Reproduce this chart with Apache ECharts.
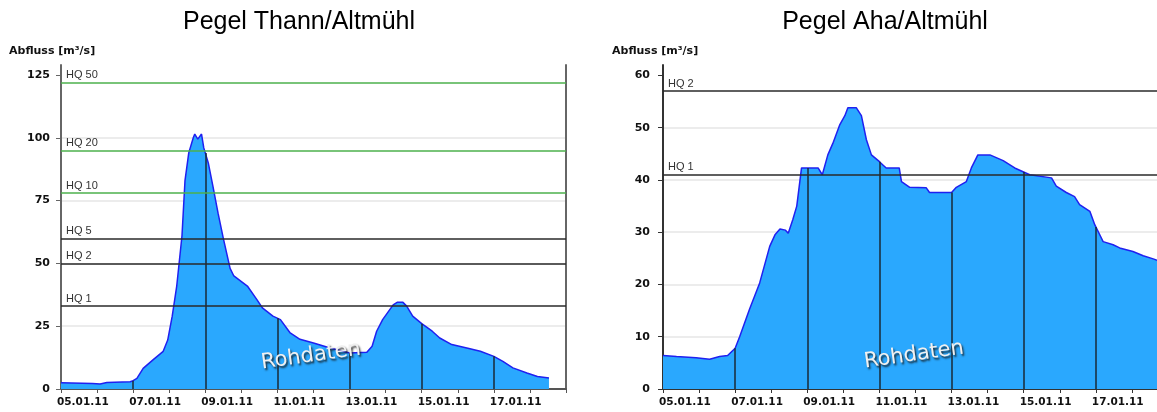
<!DOCTYPE html>
<html><head><meta charset="utf-8">
<script src="https://cdn.jsdelivr.net/npm/echarts@6/dist/echarts.min.js"></script>
<style>html,body{margin:0;padding:0;background:#fff}#c{width:1157px;height:412px}</style>
</head><body><div id="c"></div>
<script>
// ---------- data ----------
const titles = ['Pegel Thann/Altmühl', 'Pegel Aha/Altmühl'];
const yName = 'Abfluss [m³/s]';
const watermark = 'Rohdaten';
const xLabels = ['05.01.11', '07.01.11', '09.01.11', '11.01.11', '13.01.11', '15.01.11', '17.01.11'];

const thannYTicks = [0, 25, 50, 75, 100, 125];
const thannHQNames = ['HQ 50', 'HQ 20', 'HQ 10', 'HQ 5', 'HQ 2', 'HQ 1'];
const thannHQValues = [122, 95, 78, 60, 50, 33];
const thannTimes = [
  '2011-01-05 00:00', '2011-01-05 21:00', '2011-01-06 02:00', '2011-01-06 06:30', '2011-01-06 22:00',
  '2011-01-07 00:00', '2011-01-07 02:30', '2011-01-07 06:40', '2011-01-07 13:00', '2011-01-07 20:00',
  '2011-01-07 23:00', '2011-01-08 02:00', '2011-01-08 05:00', '2011-01-08 08:30', '2011-01-08 10:30',
  '2011-01-08 13:00', '2011-01-08 16:00', '2011-01-08 17:00', '2011-01-08 19:00', '2011-01-08 21:30',
  '2011-01-08 23:00', '2011-01-09 02:00', '2011-01-09 05:00', '2011-01-09 08:30', '2011-01-09 12:00',
  '2011-01-09 16:30', '2011-01-09 19:00', '2011-01-10 04:00', '2011-01-10 10:20', '2011-01-10 14:00',
  '2011-01-10 21:00', '2011-01-11 02:00', '2011-01-11 08:30', '2011-01-11 15:00', '2011-01-12 00:00',
  '2011-01-12 11:00', '2011-01-13 00:00', '2011-01-13 11:30', '2011-01-13 15:00', '2011-01-13 18:00',
  '2011-01-13 22:00', '2011-01-14 05:00', '2011-01-14 07:40', '2011-01-14 11:30', '2011-01-14 14:00',
  '2011-01-14 18:00', '2011-01-15 00:00', '2011-01-15 07:00', '2011-01-15 12:00', '2011-01-15 20:00',
  '2011-01-16 06:00', '2011-01-16 15:00', '2011-01-17 00:00', '2011-01-17 06:00', '2011-01-17 12:40',
  '2011-01-17 22:00', '2011-01-18 05:00', '2011-01-18 12:40'
];
const thannFlow = [
  2.5, 2.2, 2.0, 2.6, 2.9,
  3.3, 4.2, 8.2, 11.5, 15,
  19.5, 29, 41, 61, 83,
  94, 100, 101.5, 99.5, 101.5,
  96, 90, 81, 70, 60,
  48, 45, 41, 35.6, 32.3,
  29, 27.6, 22.3, 19.8, 18.3,
  16.3, 14.3, 14.6, 17, 23,
  27.6, 33.5, 34.5, 34.5, 33,
  29, 26, 23, 20.3, 17.7,
  16.3, 15, 13, 11, 8.4,
  6.4, 5, 4.4
];

const ahaYTicks = [0, 10, 20, 30, 40, 50, 60];
const ahaHQNames = ['HQ 2', 'HQ 1'];
const ahaHQValues = [57, 41];
const ahaTimes = [
  '2011-01-05 00:00', '2011-01-05 09:00', '2011-01-05 22:00', '2011-01-06 07:00', '2011-01-06 13:40',
  '2011-01-06 19:00', '2011-01-07 00:00', '2011-01-07 03:00', '2011-01-07 09:30', '2011-01-07 16:20',
  '2011-01-07 23:00', '2011-01-08 02:30', '2011-01-08 05:50', '2011-01-08 09:30', '2011-01-08 11:20',
  '2011-01-08 14:20', '2011-01-08 17:00', '2011-01-08 20:10', '2011-01-09 07:10', '2011-01-09 10:00',
  '2011-01-09 13:40', '2011-01-09 17:00', '2011-01-09 21:40', '2011-01-10 01:00', '2011-01-10 03:00',
  '2011-01-10 08:40', '2011-01-10 12:00', '2011-01-10 15:20', '2011-01-10 18:40', '2011-01-11 00:00',
  '2011-01-11 04:30', '2011-01-11 13:10', '2011-01-11 14:40', '2011-01-11 20:10', '2011-01-12 07:10',
  '2011-01-12 09:20', '2011-01-13 00:00', '2011-01-13 03:10', '2011-01-13 09:50', '2011-01-13 13:10',
  '2011-01-13 17:30', '2011-01-14 01:30', '2011-01-14 10:20', '2011-01-14 18:00', '2011-01-15 04:00',
  '2011-01-15 18:30', '2011-01-15 21:40', '2011-01-16 04:20', '2011-01-16 09:50', '2011-01-16 13:10',
  '2011-01-16 20:00', '2011-01-16 23:20', '2011-01-17 03:40', '2011-01-17 04:50', '2011-01-17 11:30',
  '2011-01-17 15:50', '2011-01-18 00:40', '2011-01-18 07:30', '2011-01-18 14:10', '2011-01-18 18:00'
];
const ahaFlow = [
  6.4, 6.2, 6.0, 5.7, 6.2,
  6.4, 7.8, 10, 15.2, 20.3,
  27.3, 29.5, 30.6, 30.4, 29.8,
  32.4, 35, 42.3, 42.3, 41,
  44.8, 47, 50.6, 52.3, 53.8,
  53.8, 52.3, 47.7, 44.8, 43.5,
  42.3, 42.3, 39.7, 38.6, 38.5,
  37.6, 37.6, 38.6, 39.7, 42.3,
  44.8, 44.8, 43.7, 42.3, 41,
  40.4, 38.8, 37.6, 36.8, 35.3,
  34, 31.4, 28.9, 28.2, 27.6,
  27, 26.3, 25.5, 24.9, 24.5
];

// ---------- helpers ----------
const T0 = Date.UTC(2011, 0, 5);
function toHours(s) {
  const [d, t] = s.split(' ');
  const [Y, M, D] = d.split('-').map(Number);
  const [hh, mm] = t.split(':').map(Number);
  return (Date.UTC(Y, M - 1, D, hh, mm) - T0) / 3600000;
}
function valueAt(hs, vs, h) {
  for (let i = 1; i < hs.length; i++) {
    if (h <= hs[i]) {
      const f = (h - hs[i - 1]) / (hs[i] - hs[i - 1]);
      return vs[i - 1] + f * (vs[i] - vs[i - 1]);
    }
  }
  return vs[vs.length - 1];
}

const labelFont = 'DejaVu Sans';
function makeX(gridIndex, axisColor) {
  return {
    type: 'value', gridIndex, min: 0, max: 336, interval: 24,
    axisLine: { show: true, onZero: false, lineStyle: { color: axisColor, width: 2 } },
    axisTick: { show: true, length: 4, lineStyle: { color: axisColor, width: 1 } },
    splitLine: { show: false },
    axisLabel: {
      show: true, margin: 8, align: 'left', padding: [0, 0, 0, -4],
      fontFamily: labelFont, fontWeight: 'bold', fontSize: 10.5, color: '#111',
      showMinLabel: true, showMaxLabel: true, hideOverlap: false,
      formatter: v => (Math.round(v) % 48 === 0 ? (xLabels[Math.round(v) / 48] || '') : '')
    }
  };
}
function makeY(gridIndex, max, interval, ticks, axisColor, margin) {
  return {
    type: 'value', gridIndex, min: 0, max, interval,
    axisLine: { show: true, lineStyle: { color: axisColor, width: 2 } },
    axisTick: { show: true, length: 5, customValues: ticks, lineStyle: { color: axisColor, width: 1 } },
    axisLabel: {
      customValues: ticks, margin,
      fontFamily: labelFont, fontWeight: 'bold', fontSize: 11, color: '#111'
    },
    splitLine: { show: true, showMaxLine: false, lineStyle: { color: '#ececec', width: 2 } }
  };
}
function makeSeries(times, flow, hqNames, hqValues, xi) {
  const hs = times.map(toHours);
  const data = hs.map((h, i) => [h, flow[i]]);
  const hq = hqNames.map((n, i) => ({
    yAxis: hqValues[i],
    lineStyle: { color: /HQ (50|20|10)$/.test(n) ? '#4cb04c' : '#2a2a2a', width: 1.5, type: 'solid' },
    label: {
      show: true, formatter: n, position: 'insideStartTop', distance: [5, 2],
      color: '#333', fontSize: 11, fontFamily: 'Liberation Sans'
    }
  }));
  const verticals = xLabels.slice(1).map((lab, i) => {
    const h = (i + 1) * 48;
    return [
      { coord: [h, 0], lineStyle: { color: '#1a2a36', width: 1.5, type: 'solid' }, label: { show: false } },
      { coord: [h, valueAt(hs, flow, h)] }
    ];
  });
  return {
    type: 'line', xAxisIndex: xi, yAxisIndex: xi === 0 ? 0 : 2, data,
    symbol: 'none', smooth: false, animation: false,
    lineStyle: { color: '#2020f0', width: 1.5 },
    areaStyle: { color: '#2aa8fe', opacity: 1 },
    markLine: { silent: true, symbol: ['none', 'none'], animation: false, data: verticals.concat(hq) }
  };
}

const chart = echarts.init(document.getElementById('c'), null, { renderer: 'canvas' });
const leftBorder = {
  type: 'value', gridIndex: 0, position: 'right', min: 0, max: 129,
  axisLine: { show: true, lineStyle: { color: '#666', width: 2 } },
  axisTick: { show: false }, axisLabel: { show: false }, splitLine: { show: false }
};
chart.setOption({
  animation: false,
  backgroundColor: '#fff',
  grid: [
    { left: 61, right: 591, top: 65, bottom: 23, outerBoundsMode: 'none', containLabel: false },
    { left: 663, right: -11, top: 65, bottom: 23, outerBoundsMode: 'none', containLabel: false }
  ],
  xAxis: [makeX(0, '#555'), makeX(1, '#333')],
  yAxis: [
    makeY(0, 129, 25, thannYTicks, '#666', 11),
    leftBorder,
    makeY(1, 62, 10, ahaYTicks, '#333', 13)
  ],
  series: [
    makeSeries(thannTimes, thannFlow, thannHQNames, thannHQValues, 0),
    makeSeries(ahaTimes, ahaFlow, ahaHQNames, ahaHQValues, 1)
  ],
  graphic: [
    { type: 'text', x: 299, y: 22, z: 100, style: { text: titles[0], font: '25px "Liberation Sans", Arial', fill: '#000', textAlign: 'center', textVerticalAlign: 'middle' } },
    { type: 'text', x: 885, y: 22, z: 100, style: { text: titles[1], font: '25px "Liberation Sans", Arial', fill: '#000', textAlign: 'center', textVerticalAlign: 'middle' } },
    { type: 'text', x: 9, y: 51, z: 100, style: { text: yName, font: 'bold 11px "DejaVu Sans"', fill: '#111', textAlign: 'left', textVerticalAlign: 'middle' } },
    { type: 'text', x: 612, y: 51, z: 100, style: { text: yName, font: 'bold 11px "DejaVu Sans"', fill: '#111', textAlign: 'left', textVerticalAlign: 'middle' } },
    { type: 'text', x: 311, y: 356, rotation: 0.14, z: 100, style: { text: watermark, font: '21px "DejaVu Sans"', fill: '#f0f0f0', textAlign: 'center', textVerticalAlign: 'middle', textShadowColor: 'rgba(20,20,20,0.85)', textShadowBlur: 2, textShadowOffsetX: 1.5, textShadowOffsetY: 2 } },
    { type: 'text', x: 914, y: 355, rotation: 0.14, z: 100, style: { text: watermark, font: '21px "DejaVu Sans"', fill: '#f0f0f0', textAlign: 'center', textVerticalAlign: 'middle', textShadowColor: 'rgba(20,20,20,0.85)', textShadowBlur: 2, textShadowOffsetX: 1.5, textShadowOffsetY: 2 } }
  ]
});
</script>
</body></html>
